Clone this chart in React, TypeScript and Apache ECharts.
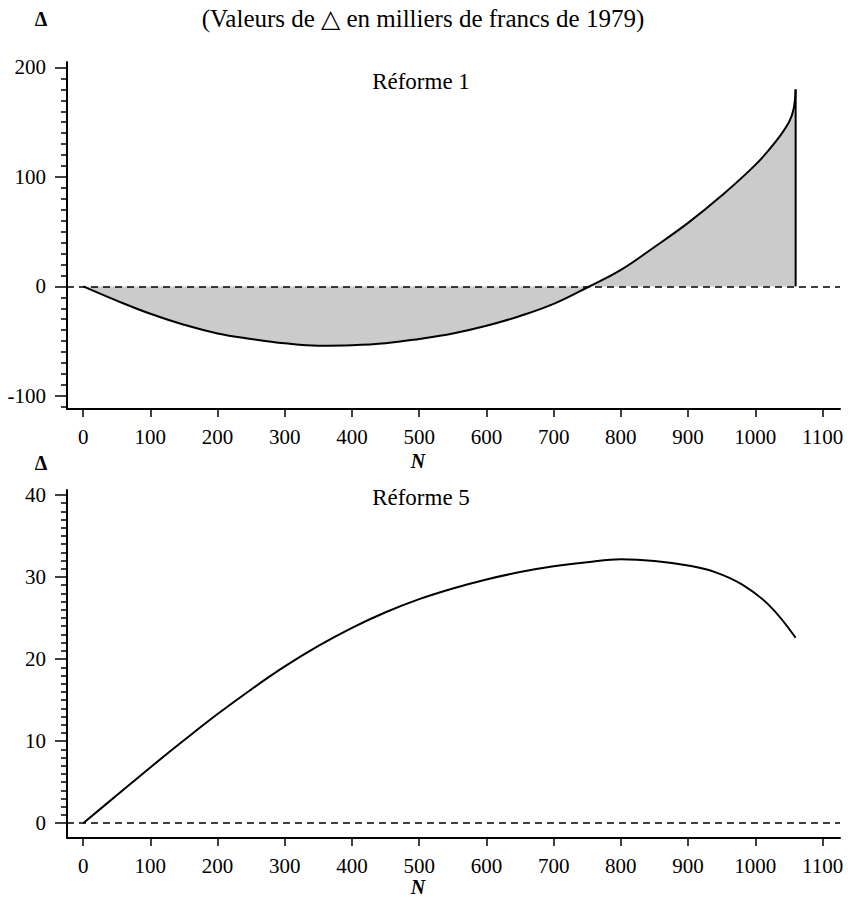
import React, { useEffect, useRef } from "react";
import * as echarts from "echarts";

const xTicks = [0, 100, 200, 300, 400, 500, 600, 700, 800, 900, 1000, 1100];

const topMajor = [-100, 0, 100, 200];
const topMinor = [-110, -90, -80, -70, -60, -50, -40, -30, -20, -10, 10, 20, 30, 40, 50, 60, 70, 80, 90, 110, 120, 130, 140, 150, 160, 170, 180, 190];
const botMajor = [0, 10, 20, 30, 40];
const botMinor = [1, 2, 3, 4, 5, 6, 7, 8, 9, 11, 12, 13, 14, 15, 16, 17, 18, 19, 21, 22, 23, 24, 25, 26, 27, 28, 29, 31, 32, 33, 34, 35, 36, 37, 38, 39];

const r1N = [0, 50, 100, 150, 200, 250, 300, 350, 400, 450, 500, 550, 600, 650, 700, 750, 800, 850, 900, 950, 1000, 1030, 1050, 1057, 1060];
const r1D = [0, -13, -25, -35, -43, -48, -52, -54.2, -53.8, -52, -48, -43, -36, -27, -16, -1, 15, 36, 58, 83, 111, 132, 150, 162, 180];
const r1Vert = [[1060, 180], [1060, 0]];

const r5N = [0, 50, 100, 150, 200, 250, 300, 350, 400, 450, 500, 550, 600, 650, 700, 750, 800, 850, 900, 940, 980, 1020, 1060];
const r5D = [0, 3.4, 6.8, 10.1, 13.3, 16.3, 19.1, 21.6, 23.8, 25.7, 27.3, 28.6, 29.7, 30.6, 31.3, 31.8, 32.15, 31.95, 31.4, 30.6, 29.1, 26.6, 22.6];

const FONT = "Liberation Serif";

export default function App() {
  const ref = useRef<HTMLDivElement>(null);
  useEffect(() => {
    if (!ref.current) return;
    const chart = echarts.init(ref.current, null, { renderer: "svg" });
    const black = "#000";
    const fmt = (v: number) => String(v);
    const mkX = (gi: number) => ({
      type: "value",
      gridIndex: gi,
      min: -24,
      max: 1126,
      axisLine: { show: true, onZero: false, lineStyle: { color: black, width: 2 } },
      axisTick: { show: true, customValues: xTicks, length: 8, lineStyle: { color: black, width: 1.5 } },
      axisLabel: { show: true, customValues: xTicks, formatter: fmt, margin: 17, color: black, fontFamily: FONT, fontSize: 21 },
      splitLine: { show: false },
    });
    const mkYMajor = (gi: number, min: number, max: number, vals: number[]) => ({
      type: "value",
      gridIndex: gi,
      min,
      max,
      position: "left",
      axisLine: { show: true, onZero: false, lineStyle: { color: black, width: 2 } },
      axisTick: { show: true, customValues: vals, length: 12, lineStyle: { color: black, width: 1.5 } },
      axisLabel: { show: true, customValues: vals, formatter: fmt, margin: 21, color: black, fontFamily: FONT, fontSize: 21 },
      splitLine: { show: false },
    });
    const mkYMinor = (gi: number, min: number, max: number, vals: number[]) => ({
      type: "value",
      gridIndex: gi,
      min,
      max,
      position: "left",
      offset: 0,
      axisLine: { show: false, onZero: false },
      axisTick: { show: true, customValues: vals, length: 6, lineStyle: { color: black, width: 1.5 } },
      axisLabel: { show: false },
      splitLine: { show: false },
    });
    const zeroLine = {
      silent: true,
      symbol: "none",
      label: { show: false },
      lineStyle: { color: black, type: [7, 5], width: 1.5 },
      data: [{ yAxis: 0 }],
    };
    const textStyle = (text: string, extra: any = {}) => ({
      text,
      fill: black,
      font: `${extra.style || "normal"} ${extra.weight || "normal"} ${extra.size || 21}px "${FONT}"`,
      textAlign: extra.align || "center",
      textVerticalAlign: "middle",
    });
    chart.setOption({
      animation: false,
      backgroundColor: "#fff",
      grid: [
        { left: 67, top: 62, width: 773, height: 347 },
        { left: 67, top: 490, width: 773, height: 348 },
      ],
      xAxis: [mkX(0), mkX(1)],
      yAxis: [
        mkYMajor(0, -112, 205, topMajor),
        mkYMinor(0, -112, 205, topMinor),
        mkYMajor(1, -1.8, 40.6, botMajor),
        mkYMinor(1, -1.8, 40.6, botMinor),
      ],
      series: [
        {
          type: "line",
          xAxisIndex: 0,
          yAxisIndex: 0,
          data: r1N.map((n, i) => [n, r1D[i]]),
          showSymbol: false,
          smooth: 0.4,
          lineStyle: { color: black, width: 2 },
          areaStyle: { color: "#cbcbcb", opacity: 1, origin: 0 },
          markLine: zeroLine,
          z: 2,
        },
        {
          type: "line",
          xAxisIndex: 0,
          yAxisIndex: 0,
          data: r1Vert,
          showSymbol: false,
          lineStyle: { color: black, width: 2 },
          z: 3,
        },
        {
          type: "line",
          xAxisIndex: 1,
          yAxisIndex: 2,
          data: r5N.map((n, i) => [n, r5D[i]]),
          showSymbol: false,
          smooth: 0.4,
          lineStyle: { color: black, width: 2 },
          markLine: zeroLine,
        },
      ],
      graphic: [
        { type: "text", x: 41, y: 19, style: textStyle("Δ", { weight: "bold", size: 20 }) },
        { type: "text", x: 423, y: 18, style: textStyle("(Valeurs de △ en milliers de francs de 1979)", { size: 25 }) },
        { type: "text", x: 421, y: 81, style: textStyle("Réforme 1", { size: 23 }) },
        { type: "text", x: 418, y: 461, style: textStyle("N", { style: "italic", weight: "bold", size: 20 }) },
        { type: "text", x: 41, y: 463, style: textStyle("Δ", { weight: "bold", size: 20 }) },
        { type: "text", x: 421, y: 497, style: textStyle("Réforme 5", { size: 23 }) },
        { type: "text", x: 418, y: 887, style: textStyle("N", { style: "italic", weight: "bold", size: 20 }) },
      ],
    });
    return () => chart.dispose();
  }, []);
  return (
    <div
      ref={ref}
      style={{ position: "fixed", left: 0, top: 0, width: 848, height: 897, background: "#fff" }}
    />
  );
}
